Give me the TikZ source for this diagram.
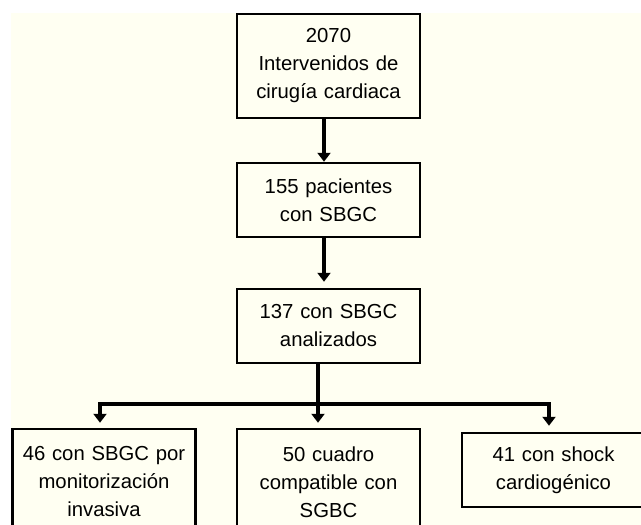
\documentclass[tikz,border=0pt]{standalone}
\usepackage{fontspec}
\setmainfont{Liberation Sans}
\usetikzlibrary{arrows.meta}
\definecolor{cream}{HTML}{FFFFF2}

\begin{document}
\begin{tikzpicture}[x=1pt, y=-1pt,
        box/.style={draw, line width=2.5pt, fill=cream, text width=172pt, inner sep=5.5pt,
                align=center, font=\fontsize{20.3}{28}\selectfont},
        link/.style={line width=4pt},
        arrow/.style={link, -{Triangle[width=13pt,length=9pt]}}]
        \clip (0,0) rectangle (641,525);
        \fill[white] (0,0) rectangle (641,525);
        \fill[cream] (11,13) rectangle (641,525);

        \node[box, minimum height=104pt] (total) at (328.5,66) {2070\\Intervenidos de\\cirugía cardiaca};
        \node[box, minimum height=74pt] (sbgc) at (328.5,200) {155 pacientes\\con SBGC};
        \node[box, minimum height=74pt] (analiz) at (328.5,326) {137 con SBGC\\analizados};
        \node[box, minimum height=106pt] (invas) at (104,482) {46 con SBGC por\\monitorización\\invasiva};
        \node[box, minimum height=106pt] (compat) at (328.5,482) {50 cuadro\\compatible con\\SGBC};
        \node[box, minimum height=74pt] (shock) at (553.5,470) {41 con shock\\cardiogénico};

        \coordinate (split) at (318,404);

        \draw[arrow] ([xshift=-4.5pt]total.south) to ([xshift=-4.5pt]sbgc.north);
        \draw[arrow, shorten >=6pt] ([xshift=-4.5pt]sbgc.south) to ([xshift=-4.5pt]analiz.north);
        \draw[link] (split |- analiz.south) to (split);
        \draw[arrow, shorten >=5pt] (split) -| ([xshift=-4pt]invas.north);
        \draw[arrow, shorten >=5pt] (split) to (split |- compat.north);
        \draw[arrow, shorten >=6pt] (split) -| ([xshift=-4.5pt]shock.north);
\end{tikzpicture}
\end{document}
